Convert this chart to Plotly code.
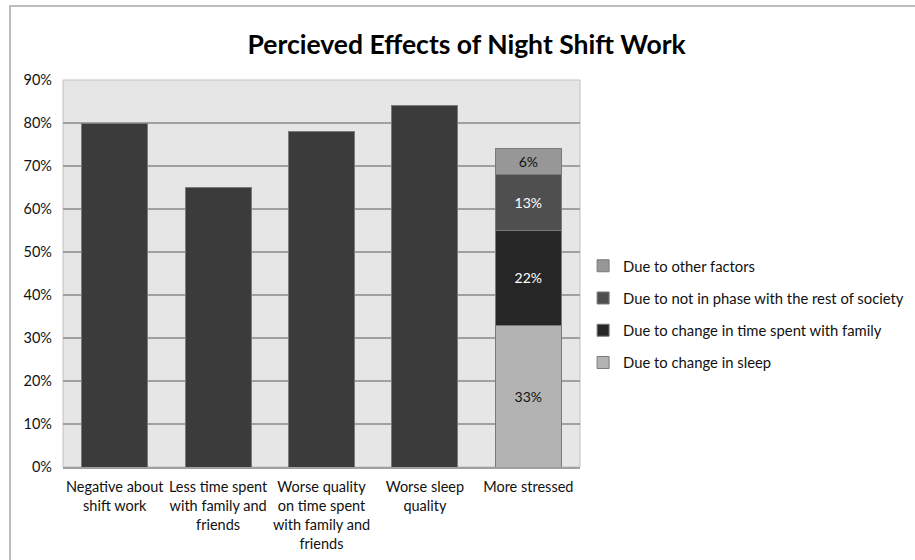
import plotly.graph_objects as go

categories = ["Negative about<br>shift work", "Less time spent<br>with family and<br>friends",
              "Worse quality<br>on time spent<br>with family and<br>friends", "Worse sleep<br>quality",
              "More stressed"]
main_values = [80, 65, 78, 84, None]
stack_names = ["Due to change in sleep", "Due to change in time spent with family",
               "Due to not in phase with the rest of society", "Due to other factors"]
stack_values = [33, 22, 13, 6]
stack_labels = ["33%", "22%", "13%", "6%"]
stack_colors = ["#b3b3b3", "#262626", "#4f4f4f", "#979797"]
stack_text_colors = ["#111111", "#ffffff", "#ffffff", "#111111"]
tick_vals = [0, 10, 20, 30, 40, 50, 60, 70, 80, 90]
tick_text = ["0%", "10%", "20%", "30%", "40%", "50%", "60%", "70%", "80%", "90%"]

FONT = "Lato"
fig = go.Figure()
fig.add_trace(go.Bar(x=categories, y=main_values, marker=dict(color="#3b3b3b", line=dict(color="#7a7a7a", width=1)),
                     showlegend=False, hoverinfo="skip"))
for i, (name, v, lab, c, tc) in enumerate(zip(stack_names, stack_values, stack_labels, stack_colors, stack_text_colors)):
    fig.add_trace(go.Bar(x=[categories[-1]], y=[v], name=name, text=[lab], textposition="inside",
                         insidetextanchor="middle", textfont=dict(color=tc, size=14, family=FONT),
                         marker=dict(color=c, line=dict(color="#7a7a7a", width=1)), legendgroup=name,
                         legendrank=len(stack_names) - i))

fig.update_layout(
    width=915, height=560,
    margin=dict(l=63, r=335, t=80, b=93, autoexpand=False),
    barmode="stack", bargap=0.36,
    plot_bgcolor="#e6e6e6", paper_bgcolor="#ffffff",
    font=dict(family=FONT, size=14, color="#111111"),
    title=dict(text="<b>Percieved Effects of Night Shift Work</b>", x=0.51, xanchor="center",
               y=0.92, yanchor="middle", font=dict(size=26.5, family=FONT, color="#000000")),
    xaxis=dict(showgrid=False, showline=True, linecolor="#a0a0a0", linewidth=1.5, tickangle=0,
               tickfont=dict(size=14.5, family=FONT), ticks="", ticklabelstandoff=6, automargin=False),
    yaxis=dict(range=[0, 90], tickvals=tick_vals, ticktext=tick_text, showgrid=True,
               gridcolor="#a0a0a0", gridwidth=1.5, zeroline=False, showline=False, automargin=False,
               tickfont=dict(size=14.5, family=FONT), ticks="", ticklabelstandoff=10),
    legend=dict(x=1.006, y=0.395, xanchor="left", yanchor="middle", traceorder="grouped",
                tracegroupgap=10, font=dict(size=14.8, family=FONT), itemwidth=30),
    shapes=[
        dict(type="rect", xref="paper", yref="paper", x0=0, x1=1, y0=0, y1=1,
             line=dict(color="#c0c0c0", width=1), layer="below"),
        dict(type="path", xref="paper", yref="paper",
             path="M %f %f L %f %f L %f %f" % ((10 - 63) / 517, (467 - 560) / 387, (10 - 63) / 517,
                                               (467 - 6) / 387, (915 - 63) / 517, (467 - 6) / 387),
             line=dict(color="#a8a8a8", width=1.5)),
    ],
)
fig.write_html("out.html")
